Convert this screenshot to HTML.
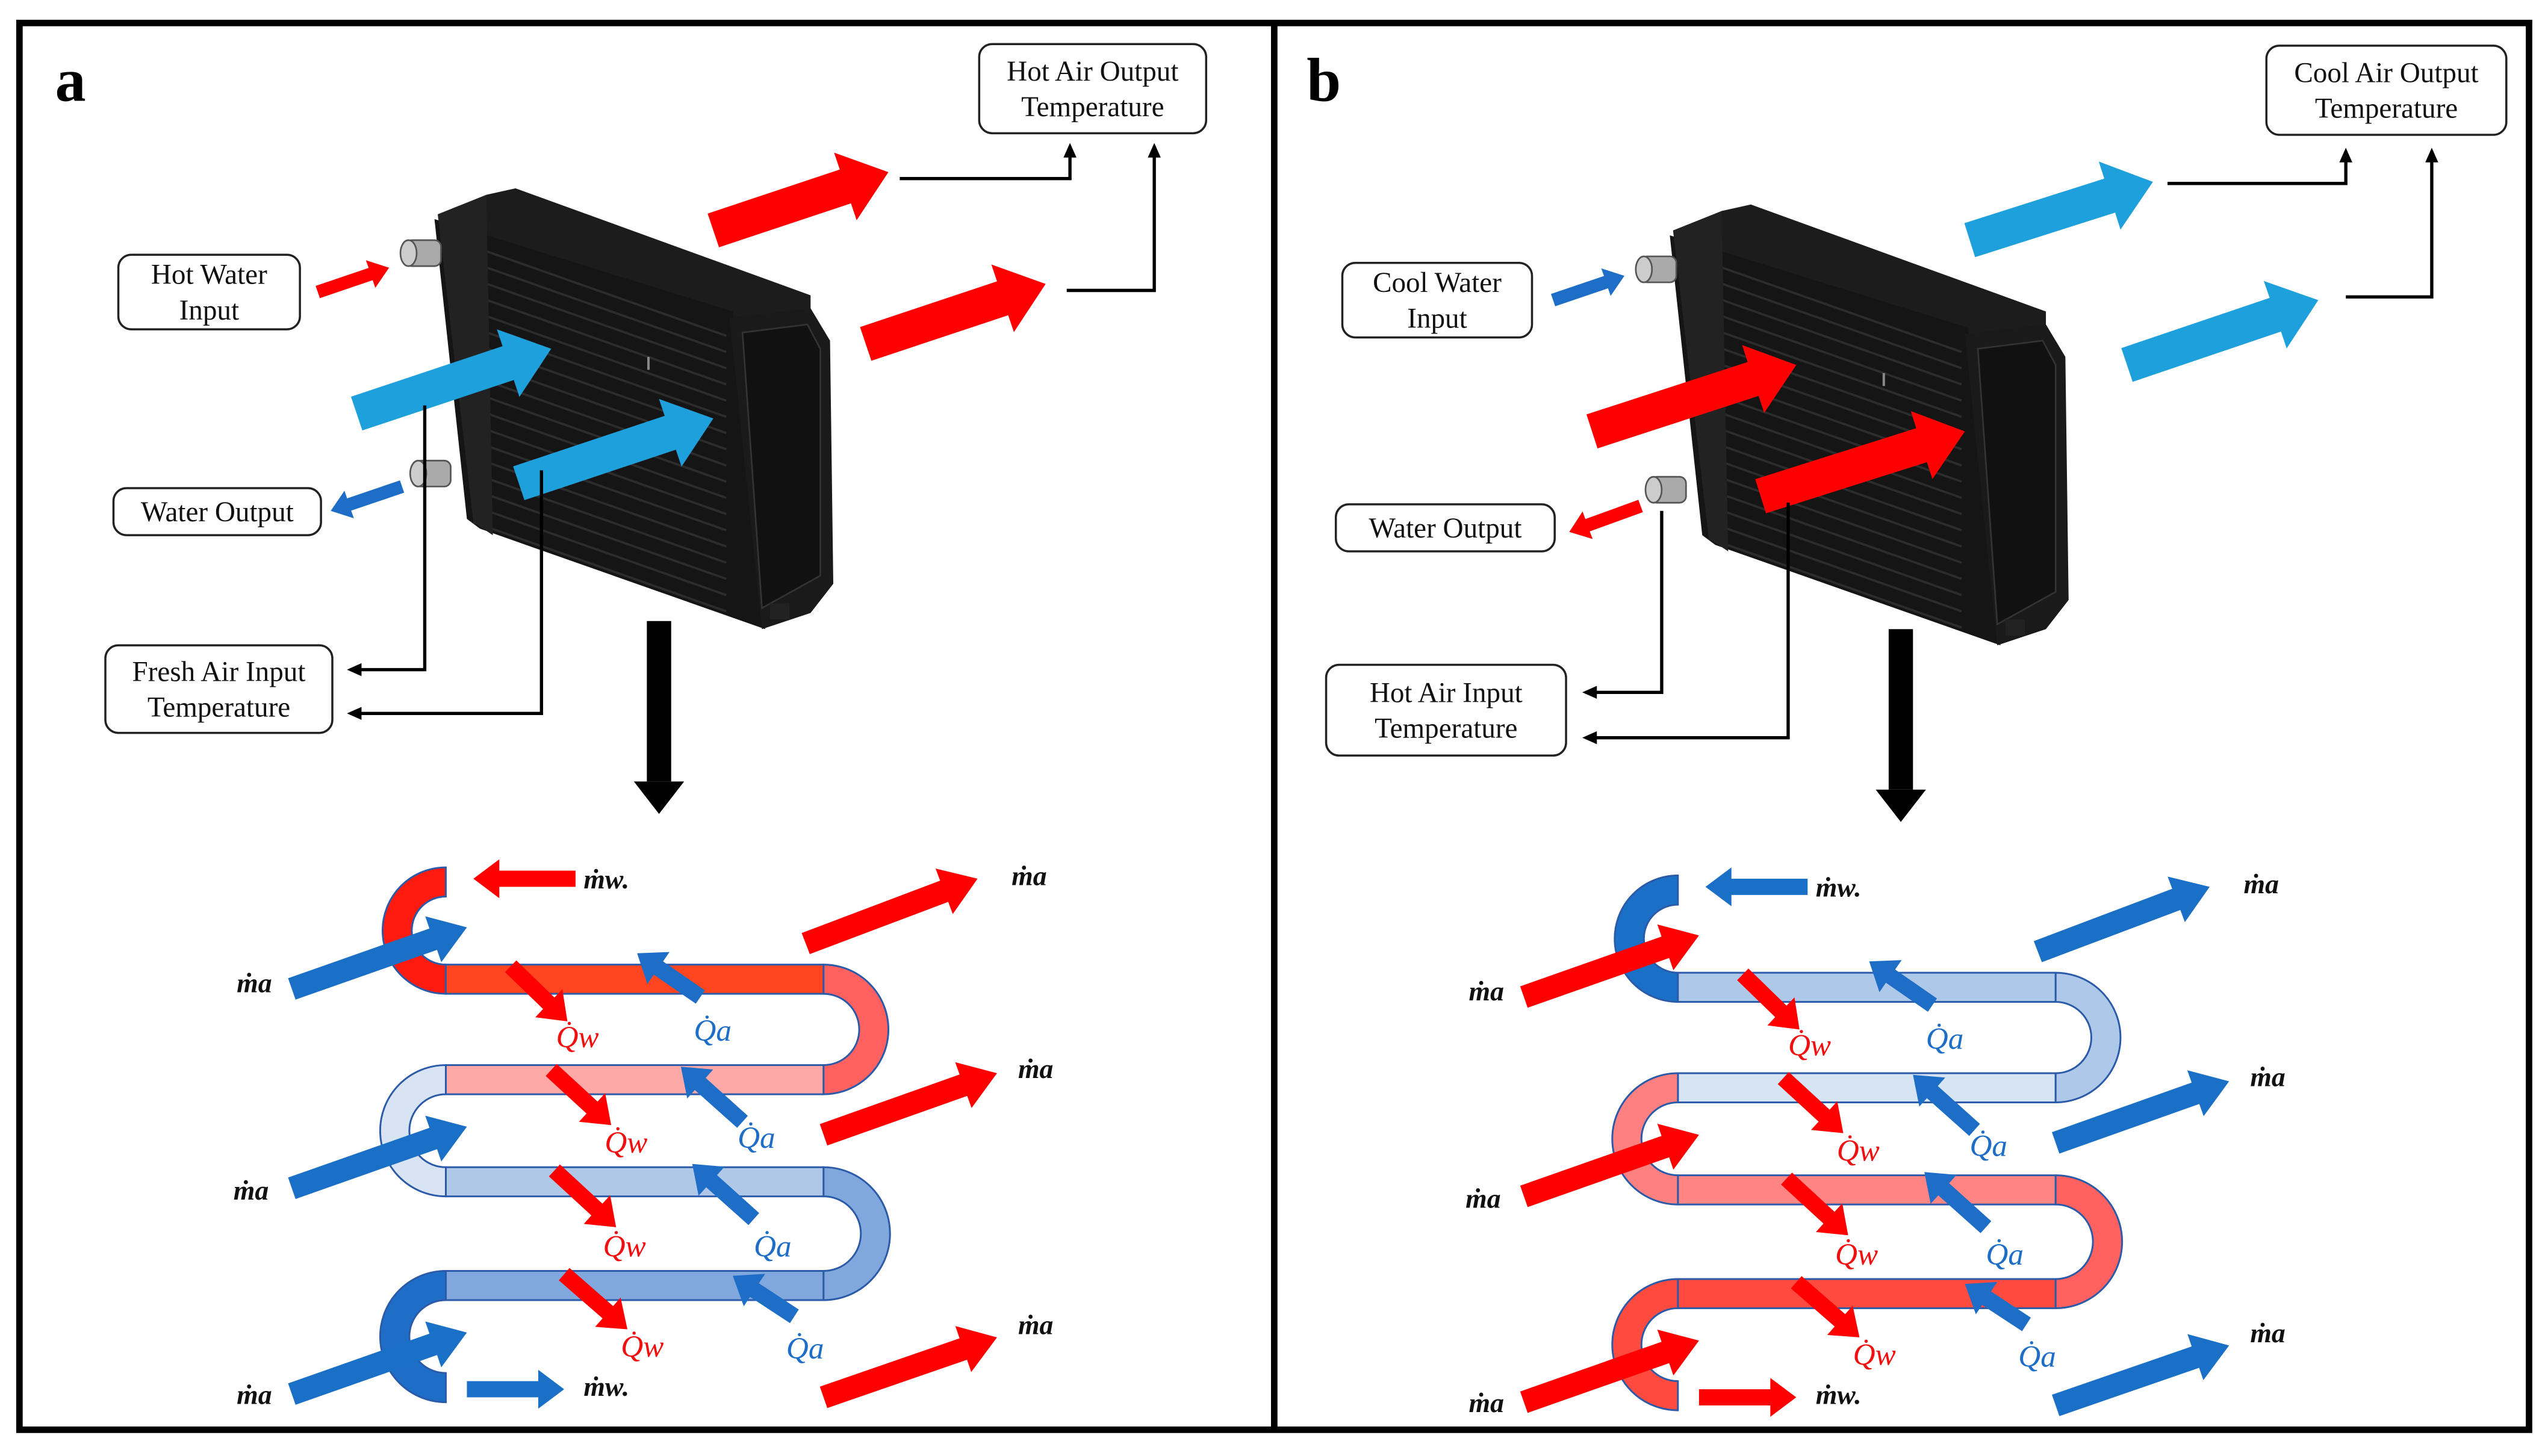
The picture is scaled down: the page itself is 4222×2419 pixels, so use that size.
<!DOCTYPE html>
<html><head><meta charset="utf-8">
<style>
html,body{margin:0;padding:0;background:#fff;}
svg{display:block;}
.lb{font-family:"Liberation Serif",serif;font-size:17.5px;fill:#111;}
.m{font-family:"Liberation Serif",serif;font-style:italic;font-weight:bold;font-size:17px;fill:#111;}
.qw{font-family:"Liberation Serif",serif;font-style:italic;font-size:19px;fill:#f01010;}
.qa{font-family:"Liberation Serif",serif;font-style:italic;font-size:19px;fill:#1e6ec8;}
</style></head>
<body>
<svg id="s" width="4222" height="2419" viewBox="0 0 1568 898" xmlns="http://www.w3.org/2000/svg">
<rect width="1568" height="898" fill="#fff"/>
<g id="root"></g>
<rect x="12" y="14" width="1548" height="868" fill="none" stroke="#000" stroke-width="4"/>
<line x1="786" y1="14" x2="786" y2="882" stroke="#000" stroke-width="4"/>
<text x="34" y="62" font-family="Liberation Serif,serif" font-weight="bold" font-size="38">a</text>
<text x="806" y="62" font-family="Liberation Serif,serif" font-weight="bold" font-size="38">b</text>
</svg>
<script>
var NS="http://www.w3.org/2000/svg";
var root=document.getElementById('root');
function el(tag,attrs,parent,txt){var e=document.createElementNS(NS,tag);for(var k in attrs)e.setAttribute(k,attrs[k]);if(txt!==undefined)e.textContent=txt;(parent||root).appendChild(e);return e;}
function A(g,x1,y1,x2,y2,w,hw,hl,c){var dx=x2-x1,dy=y2-y1,L=Math.hypot(dx,dy),ux=dx/L,uy=dy/L,px=-uy,py=ux;
var bx=x2-ux*hl,by=y2-uy*hl;var p=[[x1+px*w/2,y1+py*w/2],[bx+px*w/2,by+py*w/2],[bx+px*hw/2,by+py*hw/2],[x2,y2],[bx-px*hw/2,by-py*hw/2],[bx-px*w/2,by-py*w/2],[x1-px*w/2,y1-py*w/2]];
el('polygon',{points:p.map(function(q){return q[0].toFixed(1)+','+q[1].toFixed(1)}).join(' '),fill:c},g);}
function box(x,y,w,h,lines){el('rect',{x:x,y:y,width:w,height:h,rx:8,fill:'#fff',stroke:'#222','stroke-width':1.3});
var n=lines.length;for(var i=0;i<n;i++){el('text',{x:x+w/2,y:y+h/2+6+(i-(n-1)/2)*22,'text-anchor':'middle','class':'lb'},root,lines[i]);}}
function conn(pts){el('polyline',{points:pts.map(function(p){return p.join(',')}).join(' '),fill:'none',stroke:'#000','stroke-width':2},root);
var e=pts[pts.length-1],pr=pts[pts.length-2];var dx=Math.sign(e[0]-pr[0]),dy=Math.sign(e[1]-pr[1]);
var px=-dy,py=dx;el('polygon',{points:[e[0]+dx*2,e[1]+dy*2].join(',')+' '+[e[0]-dx*7+px*4,e[1]-dy*7+py*4].join(',')+' '+[e[0]-dx*7-px*4,e[1]-dy*7-py*4].join(','),fill:'#000'});}
function radiator(tx,ty){var g=el('g',{transform:'translate('+tx+','+ty+')'});
el('polygon',{points:'300,120 318,116 500,182 500,200 450,200 270,140',fill:'#1c1c1c'},g);
el('polygon',{points:'268,135 452,192 472,388 296,326 288,320',fill:'#151515'},g);
el('polygon',{points:'450,196 500,190 512,210 514,360 500,378 470,388',fill:'#1a1a1a'},g);
el('polygon',{points:'458,205 498,200 506,215 506,355 470,375',fill:'#111',stroke:'#333','stroke-width':1},g);
for(var i=0;i<18;i++){var y0=152+i*10,y1=y0+55;el('line',{x1:292,y1:y0,x2:448,y2:y1,stroke:'#2c2c2c','stroke-width':1.4},g);}
el('polygon',{points:'270,132 300,120 304,330 292,322',fill:'#222'},g);
el('rect',{x:250,y:148,width:22,height:16,rx:4,fill:'#aaa',stroke:'#555'},g);
el('ellipse',{cx:252,cy:156,rx:5,ry:8,fill:'#ccc',stroke:'#555'},g);
el('rect',{x:256,y:284,width:22,height:16,rx:4,fill:'#aaa',stroke:'#555'},g);
el('ellipse',{cx:258,cy:292,rx:5,ry:8,fill:'#ccc',stroke:'#555'},g);
el('rect',{x:475,y:372,width:12,height:10,fill:'#222'},g);
el('line',{x1:400,y1:220,x2:400,y2:228,stroke:'#888','stroke-width':1.5},g);
return g;}
function bigDown(x,y1,y2){el('rect',{x:x,y:y1,width:15,height:y2-y1,fill:'#000'});el('polygon',{points:(x-8)+','+y2+' '+(x+23)+','+y2+' '+(x+7.5)+','+(y2+20),fill:'#000'});}
function tubes(tx,ty,cols,hot){var g=el('g',{transform:'translate('+tx+','+ty+')'});var S={stroke:'#2a5aa8','stroke-width':1.1};
var ys=[604,666,729,793],h=9;
function st(o,c){o.fill=c;o.stroke=S.stroke;o['stroke-width']=S['stroke-width'];return o;}
function U(x,yA,yB,right,c){var cy=(yA+yB)/2,R=(yB-yA)/2,Ro=R+h,Ri=R-h,sw=right?1:0;
el('path',st({d:'M'+x+','+(cy-Ro)+' A'+Ro+','+Ro+' 0 0 '+sw+' '+x+','+(cy+Ro)+' L'+x+','+(cy+Ri)+' A'+Ri+','+Ri+' 0 0 '+(1-sw)+' '+x+','+(cy-Ri)+' Z'},c),g);}
U(275,544,604,false,cols[0]);
for(var i=0;i<4;i++)el('rect',st({x:275,y:ys[i]-h,width:233,height:2*h},cols[1+2*i]),g);
U(508,604,666,true,cols[2]);U(275,666,729,false,cols[4]);U(508,729,793,true,cols[6]);
U(275,793,856,false,cols[8]);
var ain=hot?'#f00':'#1a6fc6',aout=hot?'#1a6fc6':'#f00';
var win=hot?'#1a6fc6':'#f00',wout=hot?'#f00':'#1a6fc6';
A(g,355,542,292,542,10,24,16,win);
el('text',{x:360,y:548,'class':'m'},g,'ṁw.');
A(g,288,857,348,857,10,24,16,wout);
el('text',{x:360,y:861,'class':'m'},g,'ṁw.');
[[610,572],[733,695],[860,822]].forEach(function(p){A(g,180,p[0],288,p[1],14,30,22,ain);});
[[146,612],[144,740],[146,866]].forEach(function(p){el('text',{x:p[0],y:p[1],'class':'m'},g,'ṁa');});
[[497,582,603,542],[508,700,615,662],[508,862,615,825]].forEach(function(p){A(g,p[0],p[1],p[2],p[3],14,30,22,aout);});
[[624,546],[628,665],[628,823]].forEach(function(p){el('text',{x:p[0],y:p[1],'class':'m'},g,'ṁa');});
[[315,596,350,630,343,646],[340,660,377,694,373,711],[342,722,380,757,372,775],[348,786,387,820,383,837]].forEach(function(p){A(g,p[0],p[1],p[2],p[3],10,24,16,'#f00');el('text',{x:p[4],y:p[5],'class':'qw'},g,'Q̇w');});
[[432,615,393,588,428,642],[458,692,420,658,455,708],[465,752,427,718,465,775],[490,812,452,787,485,838]].forEach(function(p){A(g,p[0],p[1],p[2],p[3],10,24,16,'#1e6ec8');el('text',{x:p[4],y:p[5],'class':'qa'},g,'Q̇a');});
}
radiator(0,0);
A(root,440,142,548,106,22,44,28,'#f00');
A(root,534,212,645,175,22,44,28,'#f00');
A(root,220,255,340,215,22,44,28,'#1ea0dc');
A(root,320,298,440,258,22,44,28,'#1ea0dc');
A(root,196,180,240,165,8,18,12,'#f00');
A(root,248,300,204,315,8,18,12,'#1e6ec8');
box(604,27,140,55,['Hot Air Output','Temperature']);
box(73,157,112,46,['Hot Water','Input']);
box(70,301,128,29,['Water Output']);
box(65,398,140,54,['Fresh Air Input','Temperature']);
conn([[555,110],[660,110],[660,90]]);
conn([[658,179],[712,179],[712,90]]);
conn([[262,250],[262,413],[216,413]]);
conn([[334,290],[334,440],[216,440]]);
bigDown(399,383,482);
tubes(0,0,['#ff1a10','#ff4420','#ff6060','#ffa8a8','#d8e4f4','#b0c8e8','#80a8dc','#80a8dc','#1e6ec8'],false);
radiator(762,10);
A(root,1215,148,1328,112,22,44,28,'#1ea0dc');
A(root,1312,225,1430,185,22,44,28,'#1ea0dc');
A(root,982,266,1108,225,22,44,28,'#f00');
A(root,1086,306,1212,266,22,44,28,'#f00');
A(root,958,185,1002,170,8,18,12,'#1e6ec8');
A(root,1012,312,968,328,8,18,12,'#f00');
box(1398,28,148,55,['Cool Air Output','Temperature']);
box(828,162,117,46,['Cool Water','Input']);
box(824,311,135,29,['Water Output']);
box(818,410,148,56,['Hot Air Input','Temperature']);
conn([[1337,113],[1447,113],[1447,93]]);
conn([[1447,183],[1500,183],[1500,93]]);
conn([[1025,315],[1025,427],[978,427]]);
conn([[1103,310],[1103,455],[978,455]]);
bigDown(1165,388,487);
tubes(760,5,['#1a6fc6','#adc8e8','#adc8e8','#d6e4f4','#ff8080','#ff8585','#ff6060','#ff4a40','#ff4a40'],true);
</script>
</body></html>
